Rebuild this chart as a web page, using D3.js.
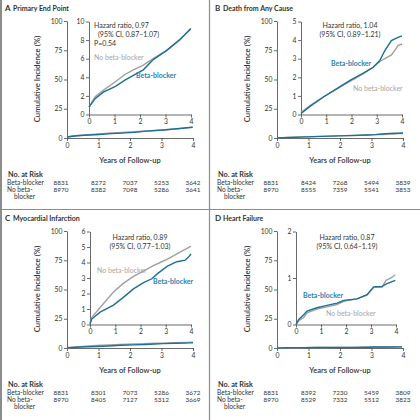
<!DOCTYPE html>
<html>
<head>
<meta charset="utf-8">
<script src="https://cdn.jsdelivr.net/npm/d3@7"></script>
<style>
body { margin: 0; background: #fff; }
text { font-family: Lato, "Open Sans", sans-serif; fill: #333; }
</style>
</head>
<body>
<div id="chart"></div>
<script>
// values
var years = [0, 1, 2, 3, 4];
var outerTicks = [0, 25, 50, 75, 100];
var letters = ["A", "B", "C", "D"];
var titles = ["Primary End Point", "Death from Any Cause", "Myocardial Infarction", "Heart Failure"];
var insetTicks = [[0, 2, 4, 6, 8, 10], [0, 1, 2, 3, 4, 5], [0, 1, 2, 3, 4, 5, 6], [0, 1, 2]];
var hazardA = ["Hazard ratio, 0.97", "(95% CI, 0.87\u20131.07)", "P=0.54"];
var hazardB = ["Hazard ratio, 1.04", "(95% CI, 0.89\u20131.21)"];
var hazardC = ["Hazard ratio, 0.89", "(95% CI, 0.77\u20131.03)"];
var hazardD = ["Hazard ratio, 0.87", "(95% CI, 0.64\u20131.19)"];

// [years, cumulative incidence %]
var primaryBeta = [[0,0.8],[0.24,1.7],[0.56,2.4],[1.02,3.0],[1.41,3.7],[1.74,4.2],[2.13,4.8],[2.52,5.9],[3.05,6.9],[3.57,8.1],[3.99,9.2]];
var primaryNo   = [[0,0.8],[0.24,1.9],[0.56,2.6],[1.02,3.5],[1.41,4.3],[1.74,4.8],[2.13,5.3],[2.52,6.0],[3.05,6.9],[3.57,8.0],[3.99,9.3]];
var deathBeta = [[0,0.05],[0.37,0.45],[0.89,0.94],[1.42,1.39],[1.94,1.83],[2.47,2.22],[2.86,2.54],[3.12,2.9],[3.32,3.43],[3.58,3.97],[3.78,4.11],[4.0,4.23]];
var deathNo   = [[0,0.1],[0.37,0.5],[0.89,0.95],[1.42,1.38],[1.94,1.78],[2.47,2.2],[2.86,2.55],[3.12,2.85],[3.32,3.0],[3.58,3.2],[3.71,3.43],[3.84,3.7],[4.0,3.79]];
var miBeta = [[0,0.05],[0.07,0.35],[0.4,0.8],[0.93,1.25],[1.32,1.75],[1.72,2.3],[2.12,2.7],[2.45,2.95],[2.65,3.25],[3.05,3.75],[3.44,4.05],[3.77,4.15],[3.9,4.35],[4.0,4.55]];
var miNo   = [[0,0.05],[0.07,0.45],[0.4,1.1],[0.93,2.1],[1.32,2.65],[1.72,3.1],[2.12,3.45],[2.45,3.75],[2.78,4.0],[3.05,4.2],[3.44,4.55],[3.77,4.85],[4.0,5.05]];
var hfBeta = [[0,0],[0.11,0.11],[0.31,0.21],[0.44,0.29],[0.84,0.36],[1.24,0.41],[1.64,0.46],[1.91,0.52],[2.44,0.55],[2.84,0.64],[3.11,0.81],[3.44,0.82],[3.64,0.88],[3.97,0.95]];
var hfNo   = [[0,0],[0.11,0.08],[0.31,0.15],[0.44,0.25],[0.84,0.33],[1.24,0.38],[1.64,0.43],[1.91,0.5],[2.44,0.55],[2.84,0.63],[3.11,0.8],[3.44,0.8],[3.6,0.95],[3.8,1.0],[3.97,1.07]];

var riskBetaA = [8831, 8272, 7037, 5253, 3642];
var riskNoA   = [8970, 8382, 7098, 5286, 3641];
var riskBetaB = [8831, 8424, 7268, 5494, 3839];
var riskNoB   = [8970, 8555, 7359, 5541, 3853];
var riskBetaC = [8831, 8301, 7073, 5286, 3672];
var riskNoC   = [8970, 8405, 7127, 5312, 3669];
var riskBetaD = [8831, 8392, 7230, 5459, 3809];
var riskNoD   = [8970, 8529, 7332, 5512, 3823];

var betaColor = "#1d6f94", betaText = "#2b82b0";
var noColor = "#a0a0a0", noText = "#a6a6a6";

var svg = d3.select("#chart").append("svg")
    .attr("width", 420)
    .attr("height", 420);

// panel frame
svg.append("line").attr("x1", 1).attr("x2", 1).attr("y1", 0).attr("y2", 420)
    .attr("stroke", "#8c8c8c").attr("stroke-width", 2);
svg.append("line").attr("x1", 209.5).attr("x2", 209.5).attr("y1", 0).attr("y2", 420)
    .attr("stroke", "#8c8c8c").attr("stroke-width", 1.2);
svg.append("line").attr("x1", 0).attr("x2", 420).attr("y1", 209.5).attr("y2", 209.5)
    .attr("stroke", "#8c8c8c").attr("stroke-width", 1.2);

var panels = [
    { ox: 0,   oy: 0,   beta: primaryBeta, no: primaryNo, rb: riskBetaA, rn: riskNoA, hz: hazardA, ix: [89, 191],
      hzPos: [[94, 27.5, "start"], [98, 36.5, "start"], [94, 45.5, "start"]], bl: [136, 77.5], nl: [94, 59.5] },
    { ox: 210, oy: 0,   beta: deathBeta, no: deathNo, rb: riskBetaB, rn: riskNoB, hz: hazardB, ix: [91, 192],
      hzPos: [[140, 27.5, "middle"], [140, 36.5, "middle"]], bl: [121, 65.5], nl: [143, 90.5] },
    { ox: 0,   oy: 210, beta: miBeta, no: miNo, rb: riskBetaC, rn: riskNoC, hz: hazardC, ix: [90, 191],
      hzPos: [[140, 29.5, "middle"], [140, 38.5, "middle"]], bl: [153, 73.5], nl: [97, 62.5] },
    { ox: 210, oy: 210, beta: hfBeta, no: hfNo, rb: riskBetaD, rn: riskNoD, hz: hazardD, ix: [86, 186],
      hzPos: [[137, 29.5, "middle"], [137, 38.5, "middle"]], bl: [93, 87.5], nl: [116, 105.5] }
];

function styleAxis(g, size) {
    g.attr("font-family", "Lato, sans-serif").attr("font-size", size).attr("color", "#333");
    g.selectAll("path, line").attr("stroke", "#444").attr("stroke-width", 0.8);
}

var fmt = d3.format("d");

panels.forEach(function(p, i) {
    var g = svg.append("g").attr("transform", "translate(" + p.ox + "," + p.oy + ")");

    g.append("text").attr("x", 5).attr("y", 10.5)
        .attr("font-size", 8).attr("font-weight", 700).text(letters[i]);
    g.append("text").attr("x", 13).attr("y", 10.5)
        .attr("font-size", 7).attr("font-weight", 700).text(titles[i]);

    // outer axes, 0-100 %
    var x = d3.scaleLinear().domain([0, 4]).range([67, 193]);
    var y = d3.scaleLinear().domain([0, 100]).range([138, 21]);

    g.append("g").attr("transform", "translate(0,138)")
        .call(d3.axisBottom(x).tickValues(years).tickFormat(fmt).tickSize(3).tickPadding(2).tickSizeOuter(0))
        .call(styleAxis, 6.8);
    g.append("g").attr("transform", "translate(67,0)")
        .call(d3.axisLeft(y).tickValues(outerTicks).tickFormat(fmt).tickSize(3).tickPadding(1.5).tickSizeOuter(0))
        .call(styleAxis, 6.8);

    var line = d3.line().x(function(d) { return x(d[0]); }).y(function(d) { return y(d[1]); });
    g.append("path").datum(p.no).attr("d", line)
        .attr("fill", "none").attr("stroke", noColor).attr("stroke-width", 1.4);
    g.append("path").datum(p.beta).attr("d", line)
        .attr("fill", "none").attr("stroke", betaColor).attr("stroke-width", 1.4);

    g.append("text").attr("transform", "translate(40,79) rotate(-90)")
        .attr("text-anchor", "middle").attr("font-size", 7.8).attr("font-weight", 600)
        .text("Cumulative Incidence (%)");
    g.append("text").attr("x", 130).attr("y", 163)
        .attr("text-anchor", "middle").attr("font-size", 7.5).attr("font-weight", 600)
        .text("Years of Follow-up");

    // inset, zoomed y scale
    var tks = insetTicks[i];
    var xi = d3.scaleLinear().domain([0, 4]).range(p.ix);
    var yi = d3.scaleLinear().domain([0, tks[tks.length - 1]]).range([114.5, 21.5]);

    g.append("g").attr("transform", "translate(0,114.5)")
        .call(d3.axisBottom(xi).tickValues(years).tickFormat(fmt).tickSize(3).tickPadding(2).tickSizeOuter(0))
        .call(styleAxis, 6.8);
    g.append("g").attr("transform", "translate(" + p.ix[0] + ",0)")
        .call(d3.axisLeft(yi).tickValues(tks).tickFormat(fmt).tickSize(3).tickPadding(1.5).tickSizeOuter(0))
        .call(styleAxis, 6.8);

    var lineI = d3.line().x(function(d) { return xi(d[0]); }).y(function(d) { return yi(d[1]); });
    g.append("path").datum(p.no).attr("d", lineI)
        .attr("fill", "none").attr("stroke", noColor).attr("stroke-width", 1.4);
    g.append("path").datum(p.beta).attr("d", lineI)
        .attr("fill", "none").attr("stroke", betaColor).attr("stroke-width", 1.4);

    p.hz.forEach(function(t, k) {
        g.append("text").attr("x", p.hzPos[k][0]).attr("y", p.hzPos[k][1])
            .attr("text-anchor", p.hzPos[k][2]).attr("font-size", 7).text(t);
    });
    g.append("text").attr("x", p.bl[0]).attr("y", p.bl[1])
        .attr("font-size", 7).attr("font-weight", 700).style("fill", betaText).text("Beta-blocker");
    g.append("text").attr("x", p.nl[0]).attr("y", p.nl[1])
        .attr("font-size", 7).style("fill", noText).text("No beta-blocker");

    // number at risk
    g.append("text").attr("x", 8).attr("y", 176.5)
        .attr("font-size", 7.3).attr("font-weight", 700).text("No. at Risk");
    g.append("text").attr("x", 7).attr("y", 184.5).attr("font-size", 6.6).text("Beta-blocker");
    g.append("text").attr("x", 7).attr("y", 191.5).attr("font-size", 6.6).text("No beta-");
    g.append("text").attr("x", 14).attr("y", 199).attr("font-size", 6.6).text("blocker");

    var colX = function(k) { return k === 0 ? x(0) - 6 : x(years[k]); };
    g.selectAll(".rb").data(p.rb).enter().append("text")
        .attr("x", function(d, k) { return colX(k); }).attr("y", 184.5)
        .attr("text-anchor", "middle").attr("font-size", 6.4).text(function(d) { return d; });
    g.selectAll(".rn").data(p.rn).enter().append("text")
        .attr("x", function(d, k) { return colX(k); }).attr("y", 191.5)
        .attr("text-anchor", "middle").attr("font-size", 6.4).text(function(d) { return d; });
});
</script>
</body>
</html>
